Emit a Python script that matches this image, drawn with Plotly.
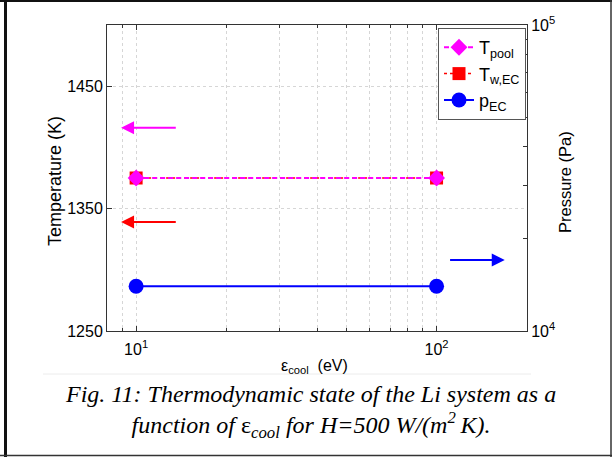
import math
import plotly.graph_objects as go

# ---- data ----
eps_cool = [10, 100]            # eV
T_pool = [1375, 1375]           # K
T_w_EC = [1375, 1375]           # K
p_EC = [14000, 14000]           # Pa

x_tick_vals = [10, 100]
x_tick_text = ["10<sup>1</sup>", "10<sup>2</sup>"]
x_minor_vals = [8, 9, 20, 30, 40, 50, 60, 70, 80, 90, 200]
t_tick_vals = [1250, 1350, 1450]
p_tick_vals = [1e4, 1e5]
p_tick_text = ["10<sup>4</sup>", "10<sup>5</sup>"]
p_minor_vals = [2e4, 3e4, 4e4, 5e4, 6e4, 7e4, 8e4, 9e4]

W, H = 612, 457
L, R, T, B = 107, 85, 25, 126
PW, PH = W - L - R, H - T - B


def px(x):
    return (x - L) / PW


def py(y):
    return (H - B - y) / PH


SANS = "Liberation Sans, Arial, Helvetica, sans-serif"
SERIF = "Liberation Serif, Times New Roman, serif"
GRID = "#d6d6d6"

fig = go.Figure()

fig.add_trace(go.Scatter(
    x=eps_cool, y=T_w_EC, name="T<sub>w,EC</sub>", mode="lines+markers",
    line=dict(color="#ff0000", width=1.5, dash="dot"),
    marker=dict(symbol="square", size=13, color="#ff0000"),
    legendrank=2, yaxis="y"))
fig.add_trace(go.Scatter(
    x=eps_cool, y=T_pool, name="T<sub>pool</sub>", mode="lines+markers",
    line=dict(color="#ff00ff", width=2, dash="5px,3px"),
    marker=dict(symbol="diamond", size=13, color="#ff00ff"),
    legendrank=1, yaxis="y"))
fig.add_trace(go.Scatter(
    x=eps_cool, y=p_EC, name="p<sub>EC</sub>", mode="lines+markers",
    line=dict(color="#0000ff", width=2),
    marker=dict(symbol="circle", size=15, color="#0000ff"),
    legendrank=3, yaxis="y2"))

axis_common = dict(showline=True, linecolor="#333333", linewidth=1,
                   ticks="inside", tickcolor="#333333", zeroline=False,
                   tickfont=dict(family=SANS, size=16, color="#000"))

fig.update_layout(
    width=W, height=H,
    margin=dict(l=L, r=R, t=T, b=B, pad=0),
    paper_bgcolor="white", plot_bgcolor="white",
    showlegend=True,
    legend=dict(x=px(526), xanchor="right", y=py(28), yanchor="top",
                bgcolor="white", bordercolor="#555555", borderwidth=1,
                font=dict(family=SANS, size=18, color="#000"),
                itemwidth=30, tracegroupgap=0),
    xaxis=dict(type="log", range=[math.log10(8), math.log10(200)],
               tickmode="array", tickvals=x_tick_vals, ticktext=x_tick_text,
               ticklen=5, mirror="ticks", ticklabelstandoff=4,
               showgrid=True, gridcolor=GRID, griddash="dot", gridwidth=1,
               minor=dict(tickmode="array", tickvals=x_minor_vals, ticks="inside",
                          ticklen=3, tickcolor="#333333", showgrid=True,
                          gridcolor=GRID, griddash="dot", gridwidth=1),
               **axis_common),
    yaxis=dict(range=[1250, 1500], tickmode="array", tickvals=t_tick_vals,
               ticklen=5, showgrid=True, gridcolor=GRID, griddash="dot",
               gridwidth=1, **axis_common),
    yaxis2=dict(type="log", range=[4, 5], overlaying="y", side="right",
                tickmode="array", tickvals=p_tick_vals, ticktext=p_tick_text,
                ticklen=5, showgrid=False,
                minor=dict(tickmode="array", tickvals=p_minor_vals, ticks="inside",
                           ticklen=4, tickcolor="#333333", showgrid=False),
                **axis_common),
)

ann = []
# axis titles
ann.append(dict(text="Temperature (K)", x=px(55), y=py(181), xref="paper", yref="paper",
                textangle=-90, showarrow=False, xanchor="center", yanchor="middle",
                font=dict(family=SANS, size=18, color="#000")))
ann.append(dict(text="Pressure (Pa)", x=px(565), y=py(182), xref="paper", yref="paper",
                textangle=-90, showarrow=False, xanchor="center", yanchor="middle",
                font=dict(family=SANS, size=16.5, color="#000")))
ann.append(dict(text="ε<sub>cool</sub>  (eV)", x=px(314), y=py(366), xref="paper", yref="paper",
                showarrow=False, xanchor="center", yanchor="middle",
                font=dict(family=SANS, size=16, color="#000")))
# caption (two lines)
ann.append(dict(text="<i>Fig. 11: Thermodynamic state of the Li system as a</i><br>"
                     "<i>function of </i>ε<i><sub>cool</sub> for H=500 W/(m<sup>2</sup>\u2009K).</i>",
                x=px(310), y=py(411.5), xref="paper", yref="paper", showarrow=False,
                xanchor="center", yanchor="middle", align="center",
                font=dict(family=SERIF, size=24, color="#000")))
# axis-indicating arrows
for col, yv in (("#ff00ff", 1416), ("#ff0000", 1339)):
    ann.append(dict(x=0.95, y=yv, ax=1.137, ay=yv, xref="x", yref="y", axref="x", ayref="y",
                    text="", showarrow=True, arrowhead=2, arrowsize=1.3, arrowwidth=2,
                    arrowcolor=col))
ann.append(dict(x=2.227, y=4.232, ax=2.04, ay=4.232, xref="x", yref="y2", axref="x", ayref="y2",
                text="", showarrow=True, arrowhead=2, arrowsize=1.3, arrowwidth=2,
                arrowcolor="#0000ff"))
fig.update_layout(annotations=ann)

shapes = [
    # outer frame
    dict(type="line", xref="paper", yref="paper", x0=px(5.5), x1=px(5.5), y0=py(0), y1=py(457),
         line=dict(color="#111", width=3)),
    dict(type="line", xref="paper", yref="paper", x0=px(0), x1=px(612), y0=py(1), y1=py(1),
         line=dict(color="#111", width=2)),
    dict(type="line", xref="paper", yref="paper", x0=px(0), x1=px(612), y0=py(455.5), y1=py(455.5),
         line=dict(color="#333", width=1.5)),
    dict(type="line", xref="paper", yref="paper", x0=px(611), x1=px(611), y0=py(0), y1=py(457),
         line=dict(color="#333", width=1.5)),
    # faint separator above caption
    dict(type="line", xref="paper", yref="paper", x0=px(43), x1=px(531), y0=py(374), y1=py(374),
         line=dict(color="#ececec", width=1)),
]
fig.update_layout(shapes=shapes)

fig.write_html("out.html", config={"displayModeBar": False},
               post_script="document.body.style.margin='0';document.body.style.overflow='hidden';")
